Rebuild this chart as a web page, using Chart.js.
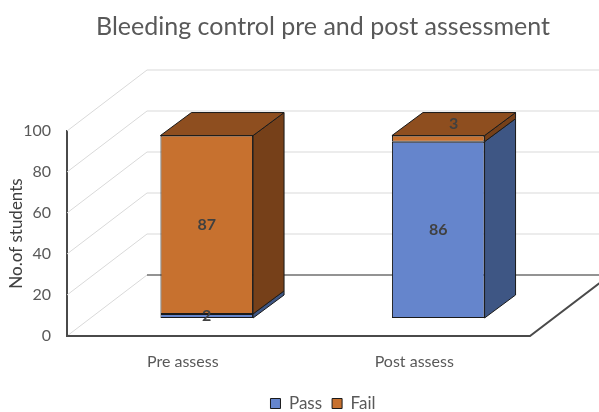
<!DOCTYPE html>
<html>
<head>
<meta charset="utf-8">
<script src="https://cdn.jsdelivr.net/npm/chart.js@4.4.1/dist/chart.umd.min.js"></script>
<style>
  html, body { margin: 0; padding: 0; background: #fff; }
  #wrap { width: 599px; height: 412px; }
</style>
</head>
<body>
<div id="wrap"><canvas id="chart"></canvas></div>
<script>
  var categories = ["Pre assess", "Post assess"];
  var passValues = [2, 86];
  var failValues = [87, 3];
  var yTicks = [0, 20, 40, 60, 80, 100];

  // fake 3D: floor/wall depth and bar placement, in pixels
  var WALL_DX = 80, WALL_DY = -61;
  var BAR_DX = 24, BAR_DY = -18;
  var DEPTH_X = 31, DEPTH_Y = -23;

  var faces = [
    { side: "#3e5684", top: "#4f6fae" },
    { side: "#764019", top: "#8e4e1f" },
  ];

  var box3d = {
    id: "box3d",
    afterLayout: function (chart) {
      // title and legend sit a bit right of the plot in the original
      [chart.titleBlock, chart.legend].forEach(function (b) {
        if (!b) return;
        b.left = 47;
        b.right = chart.width;
        b.width = b.right - b.left;
      });
    },
    beforeDatasetsDraw: function (chart) {
      var ctx = chart.ctx, a = chart.chartArea, y = chart.scales.y;
      ctx.save();
      ctx.lineWidth = 1;
      yTicks.forEach(function (v) {
        var py = y.getPixelForValue(v);
        ctx.strokeStyle = "#d9d9d9";
        ctx.beginPath();
        ctx.moveTo(a.left, py);
        ctx.lineTo(a.left + WALL_DX, py + WALL_DY);
        if (v !== 0) ctx.lineTo(chart.width + 5, py + WALL_DY);
        ctx.stroke();
      });
      var by = a.bottom + WALL_DY;
      ctx.strokeStyle = "#6f6f6f";
      ctx.lineWidth = 1.5;
      ctx.beginPath();
      ctx.moveTo(a.left + WALL_DX, by);
      ctx.lineTo(chart.width + 5, by);
      ctx.stroke();
      ctx.strokeStyle = "#4a4a4a";
      ctx.lineWidth = 2;
      ctx.beginPath();
      ctx.moveTo(a.left, a.bottom);
      ctx.lineTo(a.right, a.bottom);
      ctx.lineTo(a.right + WALL_DX, a.bottom + WALL_DY);
      ctx.stroke();
      ctx.restore();
      ctx.save();
      ctx.translate(BAR_DX, BAR_DY);
    },
    afterDatasetsDraw: function (chart) {
      var ctx = chart.ctx;
      var n = chart.data.datasets.length;
      ctx.lineWidth = 1;
      ctx.strokeStyle = "#1a1a1a";
      ctx.lineJoin = "round";
      for (var i = 0; i < n; i++) {
        chart.getDatasetMeta(i).data.forEach(function (bar) {
          var p = bar.getProps(["x", "y", "base", "width"], true);
          var l = p.x - p.width / 2, r = p.x + p.width / 2;
          ctx.fillStyle = faces[i].side;
          ctx.beginPath();
          ctx.moveTo(r, p.y);
          ctx.lineTo(r + DEPTH_X, p.y + DEPTH_Y);
          ctx.lineTo(r + DEPTH_X, p.base + DEPTH_Y);
          ctx.lineTo(r, p.base);
          ctx.closePath();
          ctx.fill();
          ctx.stroke();
          if (i === n - 1) {
            ctx.fillStyle = faces[i].top;
            ctx.beginPath();
            ctx.moveTo(l, p.y);
            ctx.lineTo(l + DEPTH_X, p.y + DEPTH_Y);
            ctx.lineTo(r + DEPTH_X, p.y + DEPTH_Y);
            ctx.lineTo(r, p.y);
            ctx.closePath();
            ctx.fill();
            ctx.stroke();
          }
        });
      }
      ctx.font = "bold 16px Lato";
      ctx.fillStyle = "#404040";
      ctx.textAlign = "center";
      ctx.textBaseline = "middle";
      for (var k = 0; k < n; k++) {
        var ds = chart.data.datasets[k];
        chart.getDatasetMeta(k).data.forEach(function (bar, j) {
          var p = bar.getProps(["x", "y", "base"], true);
          var lx = p.x, ly = (p.y + p.base) / 2;
          if (k === n - 1 && p.base - p.y < 12) {
            lx += DEPTH_X / 2;
            ly = p.y + DEPTH_Y / 2;
          }
          ctx.fillText(String(ds.data[j]), lx, ly);
        });
      }
      ctx.restore();
    },
  };

  new Chart(document.getElementById("chart"), {
    type: "bar",
    data: {
      labels: categories,
      datasets: [
        {
          label: "Pass",
          data: passValues,
          backgroundColor: "#6585cc",
          borderColor: "#1a1a1a",
          borderWidth: 1,
          borderSkipped: false,
          clip: false,
        },
        {
          label: "Fail",
          data: failValues,
          backgroundColor: "#c7712f",
          borderColor: "#1a1a1a",
          borderWidth: 1,
          borderSkipped: false,
          clip: false,
        },
      ],
    },
    options: {
      responsive: true,
      maintainAspectRatio: false,
      animation: false,
      categoryPercentage: 1,
      barPercentage: 0.4,
      layout: { padding: { left: 4, right: 69, top: 0, bottom: -10 } },
      scales: {
        x: {
          stacked: true,
          grid: { display: false },
          border: { display: false },
          ticks: { color: "#595959", font: { family: "Lato", size: 16 }, padding: 8 },
          afterFit: function (s) { s.height = 49; },
        },
        y: {
          stacked: true,
          min: 0,
          max: 100,
          grid: { display: false },
          border: { display: true, color: "#4a4a4a", width: 2 },
          ticks: { stepSize: 20, color: "#595959", font: { family: "Lato", size: 16 }, padding: 8 },
          title: { display: true, text: "No.of students", color: "#404040", font: { family: "Lato", size: 17 }, padding: 2 },
          afterFit: function (s) { s.width = 63; },
        },
      },
      plugins: {
        title: {
          display: true,
          text: "Bleeding control pre and post assessment",
          color: "#595959",
          font: { family: "Lato", size: 25, weight: "normal" },
          padding: { top: 12, bottom: 89 },
        },
        legend: {
          position: "bottom",
          labels: { boxWidth: 10, boxHeight: 10, padding: 10, color: "#595959", font: { family: "Lato", size: 17 } },
        },
        tooltip: { enabled: false },
      },
    },
    plugins: [box3d],
  });
</script>
</body>
</html>
